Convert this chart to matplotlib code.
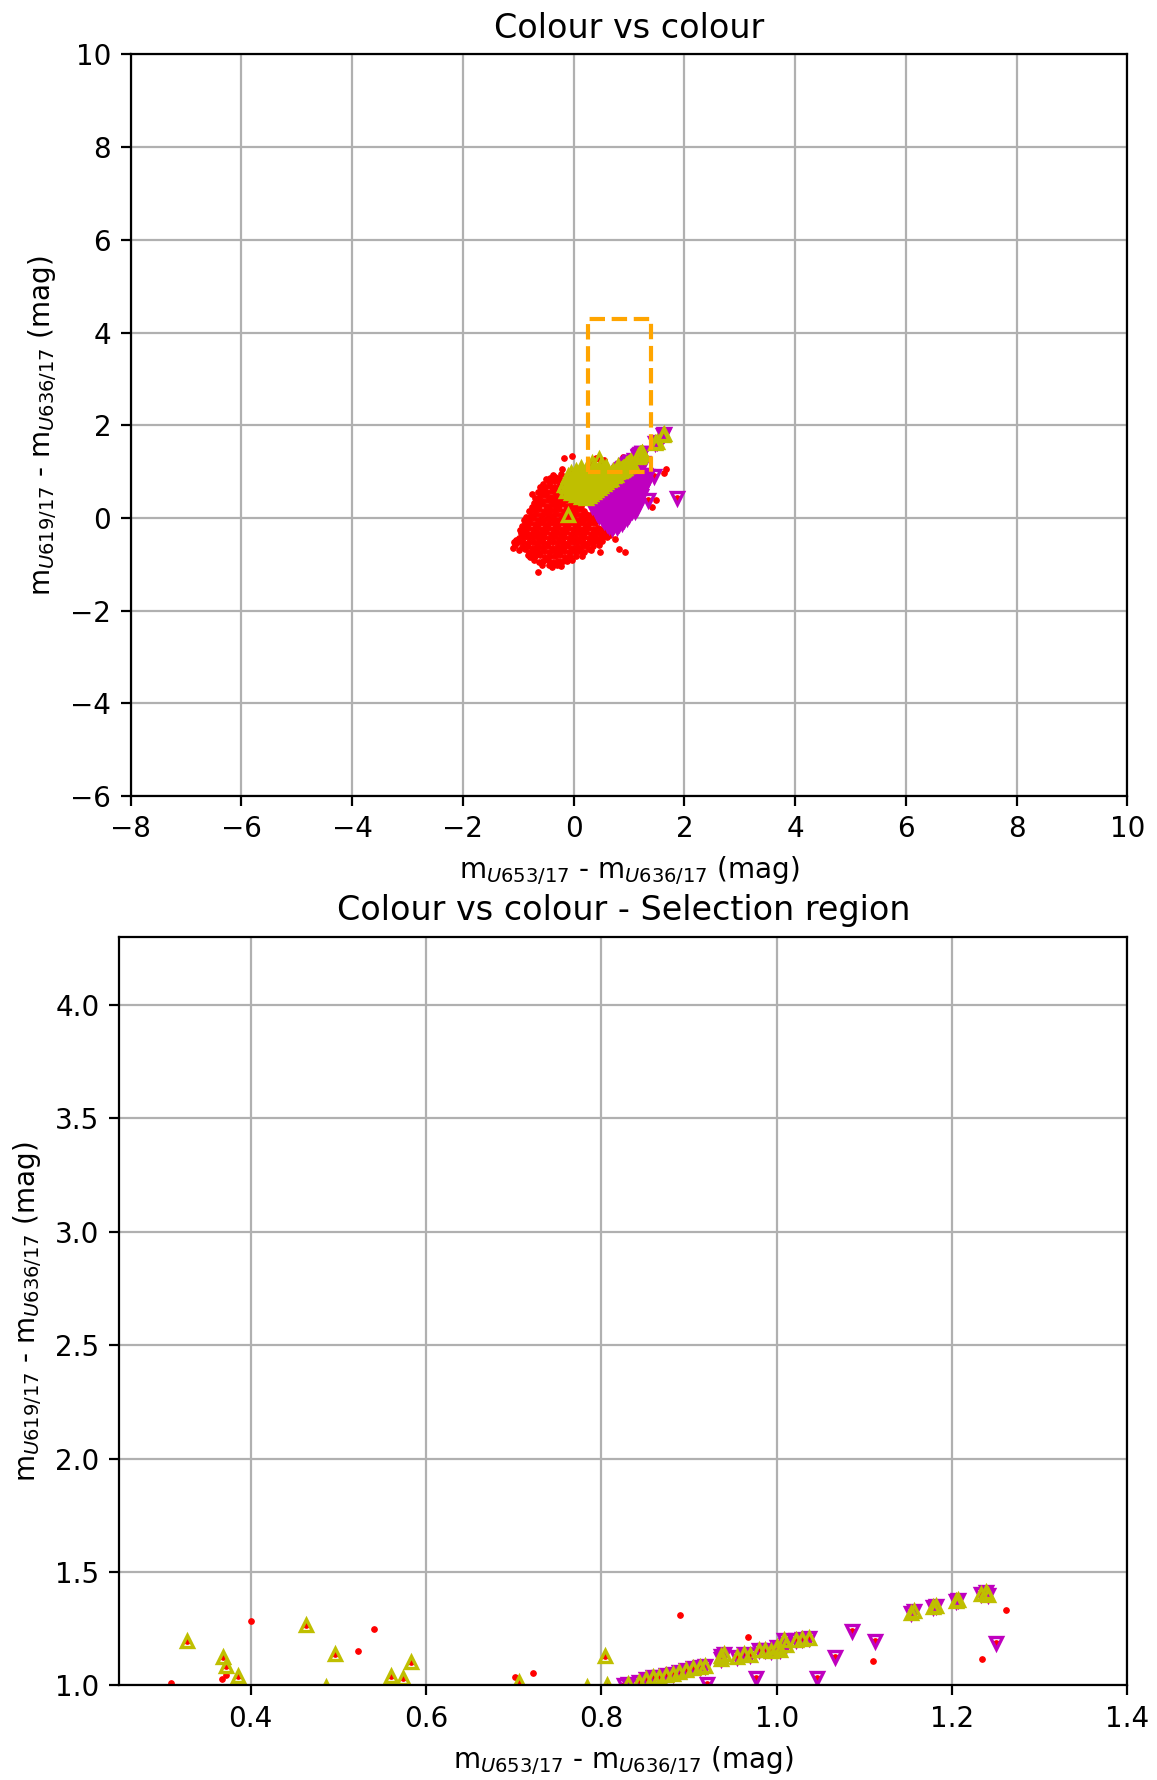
import matplotlib
matplotlib.use('Agg')
import matplotlib.pyplot as plt

# selection region (colour cuts)
sel_x = (0.25, 1.4)
sel_y = (1.0, 4.3)

# stars not selected: dense core of the cloud (x, y)
red_core = [
    (-0.45, 0.78), (-0.36, 0.80), (-0.27, 0.77), (-0.19, 0.79),
    (-0.52, 0.67), (-0.43, 0.69), (-0.34, 0.66), (-0.25, 0.68), (-0.16, 0.70),
    (-0.57, 0.58), (-0.48, 0.56), (-0.39, 0.59), (-0.30, 0.57), (-0.21, 0.58), (-0.12, 0.56),
    (-0.61, 0.47), (-0.52, 0.49), (-0.43, 0.46), (-0.34, 0.48), (-0.25, 0.47), (-0.16, 0.49), (-0.07, 0.46),
    (-0.65, 0.38), (-0.56, 0.36), (-0.47, 0.39), (-0.38, 0.37), (-0.29, 0.38), (-0.20, 0.36), (-0.11, 0.39),
    (-0.02, 0.37), (0.06, 0.35),
    (-0.68, 0.27), (-0.59, 0.29), (-0.50, 0.26), (-0.41, 0.28), (-0.32, 0.27), (-0.23, 0.29), (-0.14, 0.26),
    (-0.05, 0.28), (0.04, 0.27), (0.13, 0.25),
    (-0.72, 0.17), (-0.63, 0.19), (-0.54, 0.16), (-0.45, 0.18), (-0.36, 0.17), (-0.27, 0.19), (-0.18, 0.16),
    (-0.09, 0.18), (0.00, 0.17), (0.09, 0.19), (0.18, 0.16),
    (-0.77, 0.07), (-0.68, 0.09), (-0.59, 0.06), (-0.50, 0.08), (-0.41, 0.07), (-0.32, 0.09), (-0.23, 0.06),
    (-0.14, 0.08), (-0.05, 0.07), (0.04, 0.09), (0.13, 0.06), (0.22, 0.08), (0.29, 0.07),
    (-0.82, -0.03), (-0.73, -0.01), (-0.64, -0.04), (-0.55, -0.02), (-0.46, -0.03), (-0.37, -0.01),
    (-0.28, -0.04), (-0.19, -0.02), (-0.10, -0.03), (-0.01, -0.01), (0.08, -0.04), (0.17, -0.02),
    (0.26, -0.03), (0.35, -0.01),
    (-0.87, -0.13), (-0.78, -0.11), (-0.69, -0.14), (-0.60, -0.12), (-0.51, -0.13), (-0.42, -0.11),
    (-0.33, -0.14), (-0.24, -0.12), (-0.15, -0.13), (-0.06, -0.11), (0.03, -0.14), (0.12, -0.12),
    (0.21, -0.13), (0.30, -0.11), (0.39, -0.12),
    (-0.91, -0.23), (-0.82, -0.21), (-0.73, -0.24), (-0.64, -0.22), (-0.55, -0.23), (-0.46, -0.21),
    (-0.37, -0.24), (-0.28, -0.22), (-0.19, -0.23), (-0.10, -0.21), (-0.01, -0.24), (0.08, -0.22),
    (0.17, -0.23), (0.26, -0.21), (0.35, -0.24), (0.44, -0.22), (0.52, -0.23),
    (-0.95, -0.33), (-0.86, -0.31), (-0.77, -0.34), (-0.68, -0.32), (-0.59, -0.33), (-0.50, -0.31),
    (-0.41, -0.34), (-0.32, -0.32), (-0.23, -0.33), (-0.14, -0.31), (-0.05, -0.34), (0.04, -0.32),
    (0.13, -0.33), (0.22, -0.31), (0.31, -0.34), (0.40, -0.32), (0.49, -0.33), (0.58, -0.31),
    (-0.99, -0.43), (-0.90, -0.41), (-0.81, -0.44), (-0.72, -0.42), (-0.63, -0.43), (-0.54, -0.41),
    (-0.45, -0.44), (-0.36, -0.42), (-0.27, -0.43), (-0.18, -0.41), (-0.09, -0.44), (0.00, -0.42),
    (0.09, -0.43), (0.18, -0.41), (0.27, -0.44), (0.36, -0.42), (0.45, -0.43), (0.54, -0.40),
    (-1.01, -0.53), (-0.92, -0.51), (-0.83, -0.54), (-0.74, -0.52), (-0.65, -0.53), (-0.56, -0.51),
    (-0.47, -0.54), (-0.38, -0.52), (-0.29, -0.53), (-0.20, -0.51), (-0.11, -0.54), (-0.02, -0.52),
    (0.07, -0.53), (0.16, -0.51), (0.25, -0.54), (0.34, -0.52), (0.42, -0.50),
    (-0.94, -0.63), (-0.85, -0.61), (-0.76, -0.64), (-0.67, -0.62), (-0.58, -0.63), (-0.49, -0.61),
    (-0.40, -0.64), (-0.31, -0.62), (-0.22, -0.63), (-0.13, -0.61), (-0.04, -0.64), (0.05, -0.62),
    (0.14, -0.63), (0.23, -0.60),
    (-0.80, -0.73), (-0.71, -0.71), (-0.62, -0.74), (-0.53, -0.72), (-0.44, -0.73), (-0.35, -0.71),
    (-0.26, -0.74), (-0.17, -0.72), (-0.08, -0.73), (0.01, -0.71), (0.09, -0.72),
    (-0.69, -0.83), (-0.60, -0.81), (-0.51, -0.84), (-0.42, -0.82), (-0.33, -0.83), (-0.24, -0.81),
    (-0.15, -0.84), (-0.06, -0.82),
    (-0.55, -0.93), (-0.46, -0.91), (-0.37, -0.94), (-0.28, -0.92), (-0.19, -0.93),
]

# ragged rim of the cloud
red_edge = [
    (-1.04, -0.47), (-1.08, -0.52), (-0.97, -0.25), (-0.90, -0.05), (-0.86, 0.03), (-0.80, 0.14),
    (-0.75, 0.24), (-0.71, 0.33), (-0.69, 0.42), (-0.64, 0.55), (-0.60, 0.66), (-0.55, 0.74),
    (-0.50, 0.85), (-0.33, 0.88), (-0.27, 0.87), (-0.38, 0.92), (-0.88, -0.68), (-0.78, -0.84),
    (-0.72, -0.90), (-0.62, -0.95), (-0.58, -1.02), (-0.40, -1.05), (-0.22, -1.03), (-0.12, -0.93),
    (-0.03, -0.90), (0.05, -0.83), (0.18, -0.74), (0.28, -0.66), (0.35, -0.60), (0.46, -0.58),
    (0.52, -0.49), (0.60, -0.42), (0.66, -0.36), (-0.60, -0.38), (-0.33, -0.07), (-0.02, -0.47),
    (0.12, -0.28), (-0.47, 0.12), (-0.21, -0.67), (-0.66, -0.58), (0.30, -0.47), (-0.84, -0.36),
]

red_outliers = [
    (-0.18, 1.29), (-0.03, 1.34), (-0.21, 1.06), (-0.23, 0.94), (-0.75, 0.51), (-0.42, 0.86),
    (-1.06, -0.59), (-1.10, -0.64), (-0.93, -0.18), (-0.82, -0.80), (-0.71, -0.76), (-0.64, -1.16),
    (-0.45, -1.02), (-0.30, -1.01), (0.32, -0.70), (0.47, -0.73), (0.75, -0.46), (0.82, -0.66),
    (0.93, -0.73), (1.67, 1.06), (1.63, 0.96), (1.48, 0.38), (1.41, 0.23), (0.15, -0.82),
    (-0.98, -0.70),
]

# not selected, inside the selection box
red_selected = [
    (0.309, 1.012), (0.400, 1.286), (0.372, 1.046), (0.367, 1.028), (0.523, 1.153), (0.541, 1.251),
    (0.702, 1.036), (0.722, 1.053), (0.890, 1.312), (0.967, 1.214), (1.110, 1.109), (1.261, 1.331),
    (1.234, 1.116),
]

# upper triangles only
olive_core = [
    (-0.13, 0.58), (-0.12, 0.69), (-0.13, 0.80), (-0.11, 0.90),
    (-0.04, 0.53), (-0.05, 0.64), (-0.04, 0.75), (-0.03, 0.86), (-0.04, 0.96),
    (0.00, 0.58), (0.00, 0.80), (0.01, 0.91),
    (0.05, 0.49), (0.06, 0.60), (0.05, 0.71), (0.04, 0.82), (0.06, 0.93), (0.05, 1.02),
    (0.09, 0.54), (0.10, 0.76), (0.09, 0.97),
    (0.14, 0.45), (0.13, 0.56), (0.15, 0.67), (0.14, 0.78), (0.13, 0.89), (0.15, 1.00), (0.14, 1.07),
    (0.19, 0.50), (0.18, 0.72), (0.19, 0.94),
    (0.23, 0.43), (0.22, 0.54), (0.24, 0.65), (0.23, 0.76), (0.22, 0.87), (0.24, 0.95), (0.22, 1.04),
    (0.28, 0.48), (0.27, 0.70), (0.28, 0.90),
    (0.32, 0.51), (0.31, 0.62), (0.33, 0.73), (0.32, 0.84), (0.31, 0.94),
    (0.37, 0.56), (0.36, 0.78), (0.37, 0.92),
    (0.41, 0.60), (0.40, 0.71), (0.42, 0.82), (0.41, 0.93),
    (0.46, 0.65), (0.45, 0.86),
    (0.50, 0.68), (0.49, 0.79), (0.51, 0.90),
    (0.55, 0.73), (0.54, 0.93),
    (0.59, 0.77), (0.58, 0.87), (0.60, 0.95),
    (0.64, 0.82), (0.68, 0.85), (0.67, 0.94), (0.72, 0.90), (0.76, 0.93),
]

olive_selected = [
    (0.328, 1.195), (0.369, 1.124), (0.372, 1.086), (0.386, 1.043), (0.463, 1.265), (0.496, 1.138),
    (0.486, 0.995), (0.560, 1.043), (0.574, 1.031), (0.583, 1.104), (0.706, 1.017), (0.804, 1.129),
    (0.784, 0.992), (0.806, 1.002), (-0.17, 0.72), (-0.11, 0.07),
]

# both upper and lower triangles
band = [
    (0.830, 1.005), (0.843, 1.017), (0.851, 1.027), (0.859, 1.036), (0.866, 1.039), (0.874, 1.046),
    (0.882, 1.050), (0.889, 1.061), (0.897, 1.068), (0.904, 1.075), (0.912, 1.082), (0.918, 1.085),
    (0.937, 1.118), (0.936, 1.128), (0.940, 1.141), (0.955, 1.126), (0.963, 1.141), (0.970, 1.133),
    (0.980, 1.155), (0.987, 1.158), (0.993, 1.153), (1.000, 1.168), (1.004, 1.158), (1.008, 1.200),
    (1.011, 1.178), (1.022, 1.200), (1.029, 1.207), (1.037, 1.211), (1.153, 1.318), (1.157, 1.330),
    (1.178, 1.345), (1.182, 1.352), (1.204, 1.372), (1.207, 1.378), (1.233, 1.404), (1.239, 1.411),
    (1.241, 1.397), (1.47, 1.61), (1.50, 1.64), (1.61, 1.79), (1.63, 1.81),
]

# lower triangles only
magenta_core = [
    (0.33, 0.25), (0.34, 0.35),
    (0.42, 0.11), (0.43, 0.21), (0.42, 0.32), (0.41, 0.42),
    (0.46, 0.05), (0.47, 0.26), (0.46, 0.40),
    (0.51, -0.01), (0.52, 0.09), (0.51, 0.20), (0.50, 0.31), (0.52, 0.42), (0.51, 0.52),
    (0.55, -0.07), (0.56, 0.14), (0.55, 0.36), (0.56, 0.55),
    (0.60, -0.13), (0.61, -0.03), (0.60, 0.08), (0.59, 0.19), (0.61, 0.30), (0.60, 0.41), (0.59, 0.52),
    (0.61, 0.62),
    (0.64, -0.18), (0.65, 0.03), (0.64, 0.25), (0.65, 0.47), (0.64, 0.66),
    (0.69, -0.22), (0.70, -0.12), (0.69, -0.01), (0.68, 0.10), (0.70, 0.21), (0.69, 0.32), (0.68, 0.43),
    (0.70, 0.54), (0.69, 0.65), (0.68, 0.73),
    (0.73, -0.15), (0.74, 0.06), (0.73, 0.27), (0.74, 0.49), (0.73, 0.70),
    (0.78, -0.20), (0.79, -0.09), (0.78, 0.02), (0.77, 0.13), (0.79, 0.24), (0.78, 0.35), (0.77, 0.46),
    (0.79, 0.57), (0.78, 0.68), (0.77, 0.79),
    (0.82, -0.14), (0.83, 0.07), (0.82, 0.29), (0.83, 0.51), (0.82, 0.73),
    (0.87, -0.10), (0.88, 0.01), (0.87, 0.12), (0.86, 0.23), (0.88, 0.34), (0.87, 0.45), (0.86, 0.56),
    (0.88, 0.67), (0.87, 0.78), (0.86, 0.88),
    (0.91, -0.04), (0.92, 0.17), (0.91, 0.39), (0.92, 0.61), (0.91, 0.83),
    (0.96, 0.00), (0.97, 0.11), (0.96, 0.22), (0.95, 0.33), (0.97, 0.44), (0.96, 0.55), (0.95, 0.66),
    (0.97, 0.77), (0.96, 0.88), (0.95, 0.95),
    (1.00, 0.06), (1.01, 0.28), (1.00, 0.50), (1.01, 0.72), (1.00, 0.92),
    (1.05, 0.14), (1.06, 0.25), (1.05, 0.36), (1.04, 0.47), (1.06, 0.58), (1.05, 0.69), (1.04, 0.80),
    (1.06, 0.91),
    (1.09, 0.22), (1.10, 0.41), (1.09, 0.63), (1.10, 0.84),
    (1.14, 0.32), (1.15, 0.43), (1.14, 0.54), (1.13, 0.65), (1.15, 0.76), (1.14, 0.87), (1.13, 0.95),
    (1.18, 0.40), (1.19, 0.60), (1.18, 0.82),
    (1.22, 0.48), (1.23, 0.59), (1.22, 0.70), (1.21, 0.81), (1.23, 0.92),
    (1.25, 0.62), (1.26, 0.86),
    (1.29, 0.72), (1.30, 0.83), (1.29, 0.93),
]

magenta_selected = [
    (0.826, 1.000), (0.921, 1.005), (0.976, 1.032), (1.046, 1.031), (1.066, 1.124), (1.086, 1.240),
    (1.112, 1.196), (1.250, 1.188), (1.45, 0.90), (1.32, 0.91), (1.35, 0.38), (1.15, 0.21),
    (1.86, 0.43), (1.11, 0.16),
]


def unpack(*groups):
    pts = [p for g in groups for p in g]
    return [p[0] for p in pts], [p[1] for p in pts]


all_x, all_y = unpack(red_core, red_edge, red_outliers, red_selected, olive_core, olive_selected,
                      band, magenta_core, magenta_selected)
up_x, up_y = unpack(olive_core, olive_selected, band)
down_x, down_y = unpack(magenta_core, magenta_selected, band)

xlab = r'm$_{U653/17}$ - m$_{U636/17}$ (mag)'
ylab = r'm$_{U619/17}$ - m$_{U636/17}$ (mag)'

fig = plt.figure(figsize=(5.785, 8.9), dpi=200)
ax1 = fig.add_axes([0.1129, 0.5528, 0.8616, 0.4166])
ax2 = fig.add_axes([0.1029, 0.0531, 0.8716, 0.4205])

for ax in (ax1, ax2):
    ax.plot(all_x, all_y, linestyle='none', marker='o', color='r', ms=2.0, mew=0.4)
    ax.plot(down_x, down_y, linestyle='none', marker='v', mec='m', mfc='none', ms=4.2, mew=1.2)
    ax.plot(up_x, up_y, linestyle='none', marker='^', mec='y', mfc='none', ms=4.2, mew=1.2)
    ax.grid(True)
    ax.set_xlabel(xlab)
    ax.set_ylabel(ylab)

bx = [sel_x[0], sel_x[0], sel_x[1], sel_x[1], sel_x[0]]
by = [sel_y[0], sel_y[1], sel_y[1], sel_y[0], sel_y[0]]
ax1.plot(bx, by, '--', color='orange', lw=1.5)
ax1.set_xlim(-8, 10)
ax1.set_ylim(-6, 10)
ax1.set_title('Colour vs colour')

ax2.set_xlim(*sel_x)
ax2.set_ylim(*sel_y)
ax2.set_title('Colour vs colour - Selection region')

fig.savefig('out.png', dpi=200)
